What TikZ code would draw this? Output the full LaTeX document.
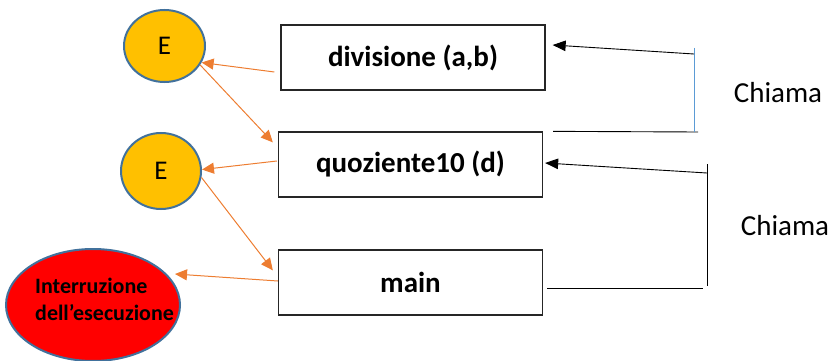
\documentclass[tikz,border=0pt]{standalone}
\usepackage{fontspec}
\setmainfont{Carlito}
\usetikzlibrary{arrows.meta,shapes.geometric}
\definecolor{offorange}{HTML}{ED7D31}
\definecolor{offgold}{HTML}{FFC000}
\definecolor{offblue}{HTML}{41719C}
\definecolor{lightblue}{HTML}{5B9BD5}
\tikzset{
  func/.style={draw=black!85, line width=1.3pt, minimum width=264pt, minimum height=65pt,
    inner sep=0pt, font=\fontsize{29}{34}\selectfont\bfseries},
  exc/.style={ellipse, draw=offblue, line width=2pt, fill=offgold, inner sep=0pt,
    font=\fontsize{27}{30}\selectfont},
  halt/.style={ellipse, draw=offblue, line width=2pt, fill=red, inner sep=0pt,
    minimum width=174pt, minimum height=112pt},
  throw/.style={draw=offorange, line width=1pt, -{Triangle[length=12pt,width=11pt]}},
  call/.style={draw=black, line width=0.9pt},
  callarrow/.style={call, -{Triangle[length=13pt,width=10.5pt]}},
  note/.style={font=\fontsize{29}{32}\selectfont, inner sep=0pt}
}
\begin{document}
\begin{tikzpicture}[x=1pt,y=-1pt]
\useasboundingbox (0,0) rectangle (835,361);

% called functions
\node[func] (div) at (413,57.5) {divisione (a,b)};
\node[func] (quo) at (410.5,164.5) {quoziente10 (d)};
\node[func] (main) at (410.5,282.5) {main};

% exceptions
\node[exc, minimum width=81pt, minimum height=72pt] (e1) at (164.5,46) {E};
\node[exc, minimum width=80pt, minimum height=76pt] (e2) at (161,171) {E};
\node[halt] (stop) at (93,305) {};
\node[align=left, anchor=west, inner sep=0pt,
  font=\fontsize{22}{27}\selectfont\bfseries] (stoptxt) at (35,299)
  {Interruzione\\dell’esecuzione};

% exception propagation
\draw[throw] ([shift={(-6,14.5)}]div.west) -- (e1.-24);
\draw[throw] (e1.-28) -- ([shift={(-5,11)}]quo.north west);
\draw[throw] ([shift={(-1,-3.5)}]quo.west) -- (e2.2);
\draw[throw] (e2.-9) -- ([shift={(-5,21)}]main.north west);
\draw[throw] ([shift={(0,-1.5)}]main.west) -- ([shift={(82,-31)}]stop.center);

% call relations
\coordinate (c1top) at (694,48);
\coordinate (c1bot) at (694,132);
\coordinate (c1arr) at (694,54);
\draw[call] ([shift={(10,0)}]quo.north east) -- (698,132) coordinate (c1end);
\draw[draw=lightblue, line width=1pt] (c1top) -- (c1bot);
\draw[callarrow] (c1arr) -- ([shift={(7,-12.5)}]div.east);

\coordinate (c2top) at (707,164);
\coordinate (c2bot) at (707,286);
\coordinate (c2arr) at (707,173);
\draw[call] ([shift={(4,5.5)}]main.east) -- (703,288) coordinate (c2end);
\draw[call] (c2top) -- (c2bot);
\draw[callarrow] (c2arr) -- ([shift={(2,-1.5)}]quo.east);

\node[note] (lab1) at (778,93) {Chiama};
\node[note] (lab2) at (785,226) {Chiama};
\end{tikzpicture}
\end{document}
